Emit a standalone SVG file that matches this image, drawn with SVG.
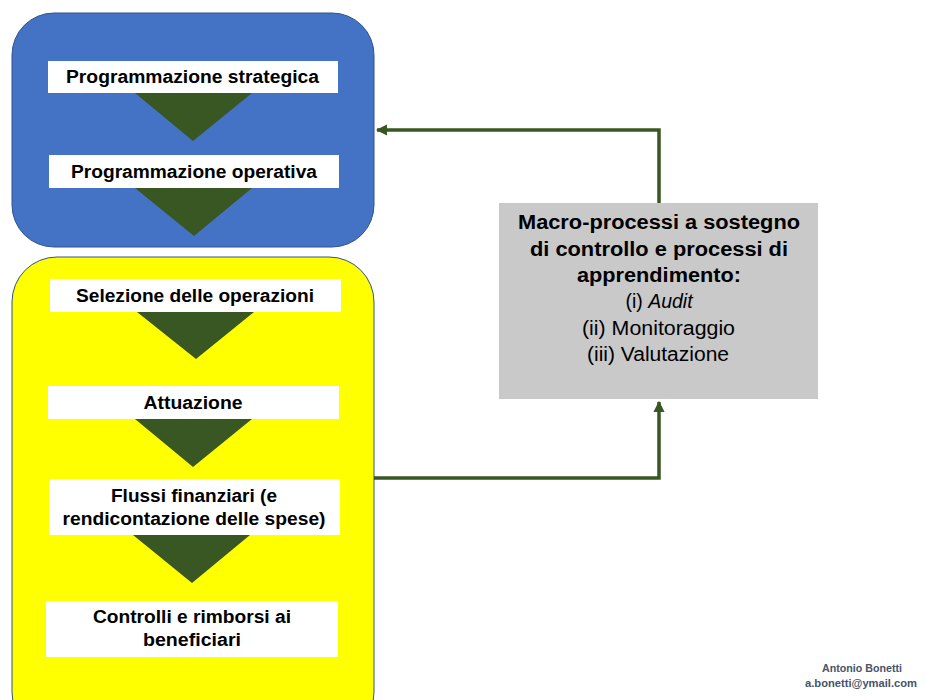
<svg xmlns="http://www.w3.org/2000/svg" width="926" height="700" viewBox="0 0 926 700">
<defs>
<style>
.lbl{font-family:"Liberation Sans",Arial,sans-serif;font-weight:bold;font-size:18px;fill:#000;text-anchor:middle}
.g{font-family:"Liberation Sans",Arial,sans-serif;font-size:19.5px;fill:#000;text-anchor:middle}
.wb{fill:#fff}
.tri{fill:#385723}
.conn{fill:none;stroke:#385723;stroke-width:3.5}
.ft{font-family:"Liberation Sans",Arial,sans-serif;font-size:11.5px;fill:#44546A;text-anchor:middle;font-weight:bold}
</style>
<marker id="ah" viewBox="0 0 10 10" refX="9" refY="5" markerWidth="3.2" markerHeight="3.2" orient="auto" markerUnits="strokeWidth">
<path d="M0,0 L10,5 L0,10 z" fill="#385723"/>
</marker>
</defs>
<rect width="926" height="700" fill="#fff"/>
<g id="blue-box">
<rect x="12" y="13" width="362" height="234" rx="42" fill="#4472C4" stroke="#2F528F" stroke-width="1"/>
</g>
<g id="yellow-box">
<rect x="12" y="257" width="362" height="480" rx="45" fill="#FFFF00" stroke="#2F528F" stroke-width="1"/>
</g>
<g id="prog-strategica">
<rect class="wb" x="48" y="61" width="290" height="32"/>
<polygon class="tri" points="135,93 252,93 193,141"/>
<text class="lbl" x="192.5" y="83" textLength="253" lengthAdjust="spacingAndGlyphs">Programmazione strategica</text>
</g>
<g id="prog-operativa">
<rect class="wb" x="49" y="155" width="290" height="33"/>
<polygon class="tri" points="135,188 252,188 194,236"/>
<text class="lbl" x="194" y="178" textLength="246" lengthAdjust="spacingAndGlyphs">Programmazione operativa</text>
</g>
<g id="selezione">
<rect class="wb" x="50" y="279" width="291" height="33"/>
<polygon class="tri" points="137,312 254,312 196,359"/>
<text class="lbl" x="195" y="302" textLength="238" lengthAdjust="spacingAndGlyphs">Selezione delle operazioni</text>
</g>
<g id="attuazione">
<rect class="wb" x="48" y="386" width="291" height="33"/>
<polygon class="tri" points="135,419 252,419 193,467"/>
<text class="lbl" x="193" y="409" textLength="99" lengthAdjust="spacingAndGlyphs">Attuazione</text>
</g>
<g id="flussi">
<rect class="wb" x="49" y="479" width="291" height="56"/>
<polygon class="tri" points="133,535 250,535 192,583"/>
<text class="lbl" x="194" y="502" textLength="166" lengthAdjust="spacingAndGlyphs">Flussi finanziari (e</text>
<text class="lbl" x="194" y="525" textLength="263" lengthAdjust="spacingAndGlyphs">rendicontazione delle spese)</text>
</g>
<g id="controlli">
<rect class="wb" x="46" y="601" width="292" height="56"/>
<text class="lbl" x="192" y="623" textLength="198" lengthAdjust="spacingAndGlyphs">Controlli e rimborsi ai</text>
<text class="lbl" x="192" y="646" textLength="98" lengthAdjust="spacingAndGlyphs">beneficiari</text>
</g>
<g id="macro">
<rect x="499" y="203" width="319" height="196" fill="#C9C9C9"/>
<text class="g" font-weight="bold" x="659" y="229" textLength="282" lengthAdjust="spacingAndGlyphs">Macro-processi a sostegno</text>
<text class="g" font-weight="bold" x="659" y="256" textLength="258" lengthAdjust="spacingAndGlyphs">di controllo e processi di</text>
<text class="g" font-weight="bold" x="659" y="282" textLength="164" lengthAdjust="spacingAndGlyphs">apprendimento:</text>
<text class="g" x="659" y="308">(i) <tspan font-style="italic">Audit</tspan></text>
<text class="g" x="658.5" y="335" textLength="153" lengthAdjust="spacingAndGlyphs">(ii) Monitoraggio</text>
<text class="g" x="658" y="361" textLength="142" lengthAdjust="spacingAndGlyphs">(iii) Valutazione</text>
</g>
<g id="connectors">
<polyline class="conn" points="659,203 659,130 377,130" marker-end="url(#ah)"/>
<polyline class="conn" points="374,478 659,478 659,402" marker-end="url(#ah)"/>
</g>
<g id="footer">
<text class="ft" x="862" y="672" textLength="80" lengthAdjust="spacingAndGlyphs">Antonio  Bonetti</text>
<text class="ft" x="861" y="687" textLength="112" lengthAdjust="spacingAndGlyphs">a.bonetti@ymail.com</text>
</g>
</svg>
